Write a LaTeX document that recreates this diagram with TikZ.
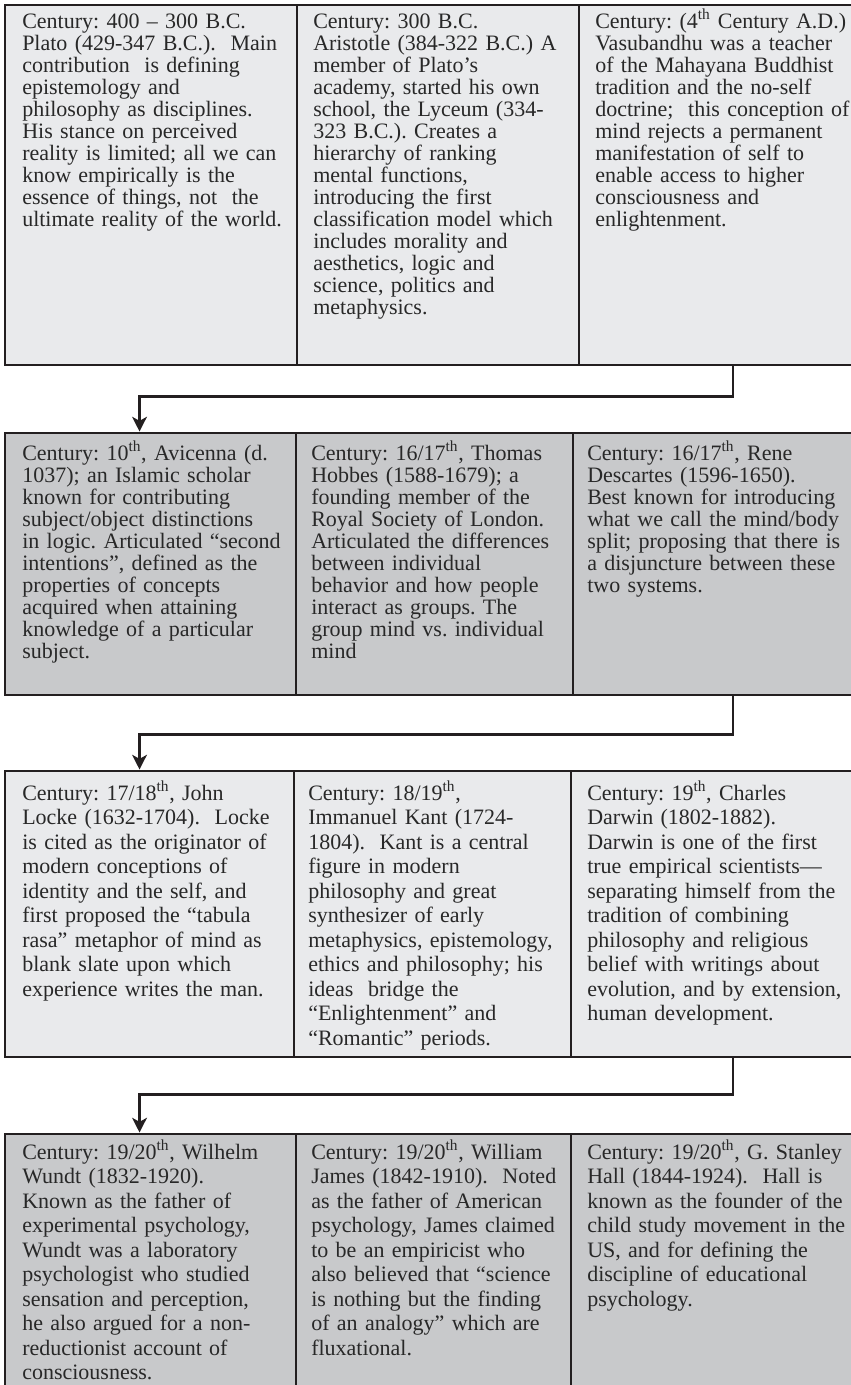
\documentclass[tikz,border=0pt]{standalone}
\usepackage{fontspec}
\setmainfont{Liberation Serif}
\usetikzlibrary{arrows.meta,fit}

\definecolor{lightcell}{RGB}{233,234,236}
\definecolor{darkcell}{RGB}{200,201,203}
\definecolor{rule}{RGB}{35,31,32}
\definecolor{ink}{RGB}{40,40,40}

% entry text, upper and lower half of the chart
\newcommand\entryfont{\fontsize{16.5}{16.5}\selectfont\frenchspacing\lineskiplimit=-100pt}
\newcommand\entryfontlow{\fontsize{16.5}{18.4}\selectfont\frenchspacing\lineskiplimit=-100pt}
\newcommand\ord{\textsuperscript{th}}

\tikzset{
  cell/.style={draw=rule, line width=2.2pt, inner sep=0pt},
  lightbox/.style={cell, fill=lightcell},
  darkbox/.style={cell, fill=darkcell},
  entry/.style={anchor=base west, inner sep=0pt, text width=235pt,
    align=left, text=ink, font=\entryfont},
  entrylow/.style={entry, font=\entryfontlow},
  flow/.style={draw=rule, line width=2pt,
    -{Stealth[length=11pt,width=11pt,inset=3pt]}},
}

\begin{document}
\begin{tikzpicture}[x=0.75pt,y=-0.75pt]
  \useasboundingbox (0,0) rectangle (850,1385);

  % row 1: antiquity
  \node[lightbox, fit={(5,5) (297,365)}] (c11) {};
  \node[lightbox, fit={(297,5) (579,365)}] (c12) {};
  \node[lightbox, fit={(579,5) (887,365)}] (c13) {};

  \node[entry] (t11) at (22,28) {Century: 400 – 300 B.C.\\
    Plato (429-347 B.C.).\ \ Main\\
    contribution\ \ is defining\\
    epistemology and\\
    philosophy as disciplines.\\
    His stance on perceived\\
    reality is limited; all we can\\
    know empirically is the\\
    essence of things, not\ \ the\\
    ultimate reality of the world.};
  \node[entry] (t12) at (313,28) {Century: 300 B.C.\\
    Aristotle (384-322 B.C.) A\\
    member of Plato’s\\
    academy, started his own\\
    school, the Lyceum (334-\\
    323 B.C.). Creates a\\
    hierarchy of ranking\\
    mental functions,\\
    introducing the first\\
    classification model which\\
    includes morality and\\
    aesthetics, logic and\\
    science, politics and\\
    metaphysics.};
  \node[entry] (t13) at (595,28) {Century: (4\ord{} Century A.D.)\\
    Vasubandhu was a teacher\\
    of the Mahayana Buddhist\\
    tradition and the no-self\\
    doctrine;\ \ this conception of\\
    mind rejects a permanent\\
    manifestation of self to\\
    enable access to higher\\
    consciousness and\\
    enlightenment.};

  % row 2: middle ages to the 17th century
  \node[darkbox, fit={(5,433) (296,695)}] (c21) {};
  \node[darkbox, fit={(296,433) (573,695)}] (c22) {};
  \node[darkbox, fit={(573,433) (893,695)}] (c23) {};

  \node[entry] (t21) at (22,460) {Century: 10\ord, Avicenna (d.\\
    1037); an Islamic scholar\\
    known for contributing\\
    subject/object distinctions\\
    in logic. Articulated “second\\
    intentions”, defined as the\\
    properties of concepts\\
    acquired when attaining\\
    knowledge of a particular\\
    subject.};
  \node[entry] (t22) at (311,460) {Century: 16/17\ord, Thomas\\
    Hobbes (1588-1679); a\\
    founding member of the\\
    Royal Society of London.\\
    Articulated the differences\\
    between individual\\
    behavior and how people\\
    interact as groups. The\\
    group mind vs. individual\\
    mind};
  \node[entry] (t23) at (587,460) {Century: 16/17\ord, Rene\\
    Descartes (1596-1650).\\
    Best known for introducing\\
    what we call the mind/body\\
    split; proposing that there is\\
    a disjuncture between these\\
    two systems.};

  % row 3: 17th to 19th century
  \node[lightbox, fit={(5,771) (294,1057)}] (c31) {};
  \node[lightbox, fit={(294,771) (571,1057)}] (c32) {};
  \node[lightbox, fit={(571,771) (895,1057)}] (c33) {};

  \node[entrylow] (t31) at (22,800) {Century: 17/18\ord, John\\
    Locke (1632-1704).\ \ Locke\\
    is cited as the originator of\\
    modern conceptions of\\
    identity and the self, and\\
    first proposed the “tabula\\
    rasa” metaphor of mind as\\
    blank slate upon which\\
    experience writes the man.};
  \node[entrylow] (t32) at (308,800) {Century: 18/19\ord,\\
    Immanuel Kant (1724-\\
    1804).\ \ Kant is a central\\
    figure in modern\\
    philosophy and great\\
    synthesizer of early\\
    metaphysics, epistemology,\\
    ethics and philosophy; his\\
    ideas\ \ bridge the\\
    “Enlightenment” and\\
    “Romantic” periods.};
  \node[entrylow] (t33) at (587,800) {Century: 19\ord, Charles\\
    Darwin (1802-1882).\\
    Darwin is one of the first\\
    true empirical scientists—\\
    separating himself from the\\
    tradition of combining\\
    philosophy and religious\\
    belief with writings about\\
    evolution, and by extension,\\
    human development.};

  % row 4: turn of the 20th century
  \node[darkbox, fit={(5,1134) (296,1400)}] (c41) {};
  \node[darkbox, fit={(296,1134) (571,1400)}] (c42) {};
  \node[darkbox, fit={(571,1134) (895,1400)}] (c43) {};

  \node[entrylow] (t41) at (22,1159) {Century: 19/20\ord, Wilhelm\\
    Wundt (1832-1920).\\
    Known as the father of\\
    experimental psychology,\\
    Wundt was a laboratory\\
    psychologist who studied\\
    sensation and perception,\\
    he also argued for a non-\\
    reductionist account of\\
    consciousness.};
  \node[entrylow] (t42) at (311,1159) {Century: 19/20\ord, William\\
    James (1842-1910).\ \ Noted\\
    as the father of American\\
    psychology, James claimed\\
    to be an empiricist who\\
    also believed that “science\\
    is nothing but the finding\\
    of an analogy” which are\\
    fluxational.};
  \node[entrylow] (t43) at (587,1159) {Century: 19/20\ord, G. Stanley\\
    Hall (1844-1924).\ \ Hall is\\
    known as the founder of the\\
    child study movement in the\\
    US, and for defining the\\
    discipline of educational\\
    psychology.};

  % links from the end of one row to the start of the next
  \draw[flow] (c13.south) -- ++(0,30) -| ([xshift=102pt]c21.north west);
  \draw[flow] (c23.south) -- ++(0,38) -| ([xshift=102pt]c31.north west);
  \draw[flow] (c33.south) -- ++(0,36) -| ([xshift=102pt]c41.north west);
\end{tikzpicture}
\end{document}
